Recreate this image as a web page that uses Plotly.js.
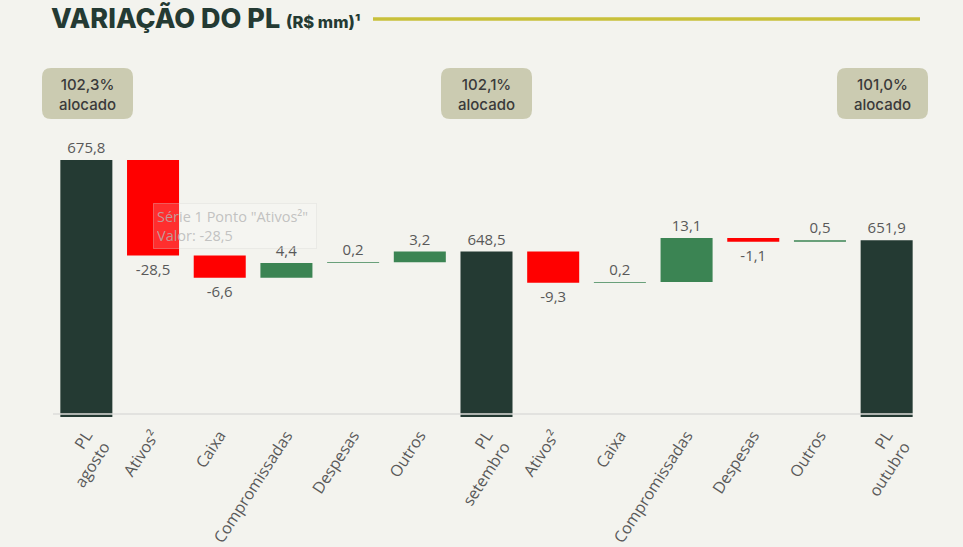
<!DOCTYPE html>
<html>
<head>
<meta charset="utf-8">
<script src="https://cdn.plot.ly/plotly-3.0.1.min.js"></script>
<style>
html,body{margin:0;padding:0;background:#F3F3EE;}
#chart{width:963px;height:547px;}
</style>
</head>
<body>
<div id="chart"></div>
<script>
// ---- data ----
const tickLabels = ["PL<br>agosto","Ativos²","Caixa","Compromissadas","Despesas","Outros","PL<br>setembro","Ativos²","Caixa","Compromissadas","Despesas","Outros","PL<br>outubro"];
const values = [675.8, -28.5, -6.6, 4.4, 0.2, 3.2, 648.5, -9.3, 0.2, 13.1, -1.1, 0.5, 651.9];
const measures = ["absolute","relative","relative","relative","relative","relative","absolute","relative","relative","relative","relative","relative","absolute"];
const allocLabels = ["102,3%<br>alocado","102,1%<br>alocado","101,0%<br>alocado"];
const allocIndex = [0, 6, 12];

const xIdx = tickLabels.map((_, i) => i);
const textLabels = values.map(v => v.toFixed(1).replace('.', ','));

// ---- geometry (pixels) ----
const W = 963, H = 547;
const mL = 53, mR = 43, mT = 60, mB = 130;
const pw = W - mL - mR, ph = H - mT - mB;
const px2x = p => (p - mL) / pw;
const py2y = p => (H - mB - p) / ph;
const nCat = tickLabels.length;

const trace = {
  type: 'waterfall',
  x: xIdx,
  y: values,
  measure: measures,
  text: textLabels,
  textinfo: 'text',
  textposition: 'outside',
  constraintext: 'none',
  cliponaxis: false,
  textfont: {family: 'Open Sans', size: 15, color: '#595959'},
  width: 0.78,
  connector: {visible: false},
  increasing: {marker: {color: '#3B8453'}},
  decreasing: {marker: {color: '#FF0000'}},
  totals: {marker: {color: '#243A33'}},
  hoverinfo: 'skip'
};

// rounded rect path in paper coords
function roundRect(cxPx, cyPx, wPx, hPx, rPx) {
  const x0 = cxPx - wPx/2, x1 = cxPx + wPx/2, y0 = cyPx - hPx/2, y1 = cyPx + hPx/2;
  const X = px2x, Y = py2y;
  return `M ${X(x0+rPx)} ${Y(y0)} L ${X(x1-rPx)} ${Y(y0)} Q ${X(x1)} ${Y(y0)} ${X(x1)} ${Y(y0+rPx)} ` +
         `L ${X(x1)} ${Y(y1-rPx)} Q ${X(x1)} ${Y(y1)} ${X(x1-rPx)} ${Y(y1)} ` +
         `L ${X(x0+rPx)} ${Y(y1)} Q ${X(x0)} ${Y(y1)} ${X(x0)} ${Y(y1-rPx)} ` +
         `L ${X(x0)} ${Y(y0+rPx)} Q ${X(x0)} ${Y(y0)} ${X(x0+rPx)} ${Y(y0)} Z`;
}

const boxCenters = [87.5, 486.5, 882.5];
const shapes = [];
const annotations = [];
allocIndex.forEach((ci, k) => {
  const cx = boxCenters[k];
  shapes.push({type: 'path', xref: 'paper', yref: 'paper', path: roundRect(cx, 93.5, 91, 51, 9),
    fillcolor: '#CBCBB1', line: {width: 0}, layer: 'below'});
  annotations.push({xref: 'paper', yref: 'paper', x: px2x(cx), y: py2y(94), text: allocLabels[k],
    showarrow: false, xanchor: 'center', yanchor: 'middle',
    font: {family: 'Inter', size: 15, color: '#3A3A3A', weight: 500}});
});

// baseline
shapes.push({type: 'line', xref: 'paper', yref: 'y', x0: 0, x1: px2x(913), y0: 600, y1: 600,
  line: {color: '#DCDCDA', width: 1.5}, layer: 'above'});
// title rule
shapes.push({type: 'line', xref: 'paper', yref: 'paper', x0: px2x(373), x1: px2x(920), y0: py2y(19), y1: py2y(19),
  line: {color: '#C8C03A', width: 3.5}});

// title
annotations.push({xref: 'paper', yref: 'paper', x: px2x(49), y: py2y(19), xanchor: 'left', yanchor: 'middle',
  showarrow: false,
  text: "VARIAÇÃO DO PL <span style='font-size:16.5px'>(R$ mm)¹</span>",
  font: {family: 'Inter', size: 27, color: '#243A33', weight: 800}});

// tooltip artefact
annotations.push({xref: 'paper', yref: 'paper', x: px2x(153), y: py2y(203), xanchor: 'left', yanchor: 'top',
  showarrow: false, align: 'left',
  text: 'Série 1 Ponto "Ativos²"<br>Valor: -28,5',
  bgcolor: 'rgba(255,255,255,0.18)', bordercolor: 'rgba(215,215,215,0.35)', borderwidth: 1, borderpad: 3,
  width: 156,
  font: {family: 'Open Sans', size: 14.5, color: 'rgba(180,180,180,0.8)'}});

const layout = {
  width: W, height: H,
  paper_bgcolor: '#F3F3EE', plot_bgcolor: '#F3F3EE',
  margin: {l: mL, r: mR, t: mT, b: mB, pad: 0},
  showlegend: false,
  xaxis: {
    range: [-0.5, nCat - 0.5], tickmode: 'array', tickvals: xIdx, ticktext: tickLabels,
    tickangle: -57, showgrid: false, zeroline: false, showline: false, ticks: '',
    ticklabelstandoff: 5,
    tickfont: {family: 'Open Sans', size: 16, color: '#595959'}, fixedrange: true
  },
  yaxis: {
    range: [600 - 3/3.35, 600 + 354/3.35], visible: false, showgrid: false, zeroline: false, fixedrange: true
  },
  shapes: shapes,
  annotations: annotations
};

Plotly.newPlot('chart', [trace], layout, {displayModeBar: false, staticPlot: true});
</script>
</body>
</html>
